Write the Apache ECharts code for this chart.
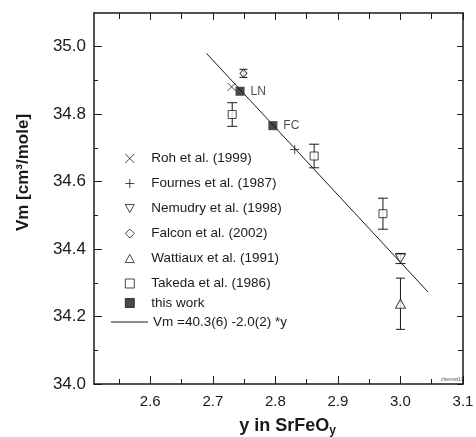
<!DOCTYPE html>
<html>
<head>
<meta charset="utf-8">
<script src="https://cdn.jsdelivr.net/npm/echarts@6/dist/echarts.min.js"></script>
<style>
  html, body { margin: 0; padding: 0; background: #fff; }
  #chart { width: 476px; height: 437px; }
</style>
</head>
<body>
<div id="chart"></div>
<script>
// Axis ranges and tick positions
const xRange = [2.51, 3.1];
const yRange = [34.0, 35.1];
const xMajorTicks = [2.6, 2.7, 2.8, 2.9, 3.0, 3.1];
const xMinorTicks = [2.55, 2.65, 2.75, 2.85, 2.95, 3.05];
const yMajorTicks = [34.0, 34.2, 34.4, 34.6, 34.8, 35.0];
const yMinorTicks = [34.1, 34.3, 34.5, 34.7, 34.9];

// Literature values: y (oxygen content), Vm, and error of Vm
const rohX = [2.730];
const rohVm = [34.881];

const fournesX = [2.831];
const fournesVm = [34.695];

const nemudryX = [3.0];
const nemudryVm = [34.372];
const nemudryErr = [0.015];

const falconX = [2.749];
const falconVm = [34.921];
const falconErr = [0.012];

const wattiauxX = [3.0];
const wattiauxVm = [34.238];
const wattiauxErr = [0.076];

const takedaX = [2.731, 2.862, 2.972];
const takedaVm = [34.799, 34.676, 34.505];
const takedaErr = [0.035, 0.035, 0.046];

// This work: LN and FC samples
const workX = [2.7435, 2.796];
const workVm = [34.868, 34.766];
const workLabels = ['LN', 'FC'];

// Linear fit end points
const fitX = [2.69, 3.044];
const fitVm = [34.98, 34.273];

const seriesNames = [
  'Roh et al. (1999)',
  'Fournes et al. (1987)',
  'Nemudry et al. (1998)',
  'Falcon et al. (2002)',
  'Wattiaux et al. (1991)',
  'Takeda et al. (1986)',
  'this work',
  'Vm =40.3(6) -2.0(2) *y'
];

const FONT = "'Liberation Sans', Arial, Helvetica, sans-serif";
const INK = '#1a1a1a';

const pairs = (xs, ys) => xs.map((x, i) => [x, ys[i]]);
const triples = (xs, ys, es) => xs.map((x, i) => [x, ys[i], es[i]]);

const crossPath = 'path://M0,0L10,10M10,0L0,10';
const plusPath = 'path://M5,0L5,10M0,5L10,5';
const downTriPath = 'path://M0,0L10,0L5,9Z';
const upTriPath = 'path://M5,0L10,9L0,9Z';

function errorBars(name, data, capHalf) {
  return {
    name: name,
    type: 'custom',
    silent: true,
    z: 2,
    renderItem: function (params, api) {
      const x = api.value(0), y = api.value(1), e = api.value(2);
      const top = api.coord([x, y + e]);
      const bot = api.coord([x, y - e]);
      const st = { stroke: INK, lineWidth: 1 };
      return {
        type: 'group',
        children: [
          { type: 'line', shape: { x1: top[0], y1: top[1], x2: bot[0], y2: bot[1] }, style: st },
          { type: 'line', shape: { x1: top[0] - capHalf, y1: top[1], x2: top[0] + capHalf, y2: top[1] }, style: st },
          { type: 'line', shape: { x1: bot[0] - capHalf, y1: bot[1], x2: bot[0] + capHalf, y2: bot[1] }, style: st }
        ]
      };
    },
    data: data
  };
}

const openStyle = { color: '#fff', borderColor: INK, borderWidth: 1 };
const strokeStyle = { color: 'transparent', borderColor: INK, borderWidth: 1 };

function axisBase(extra) {
  return Object.assign({
    type: 'value',
    splitLine: { show: false },
    axisLine: { show: false },
    axisLabel: { show: false },
    axisTick: { show: false }
  }, extra);
}

const tickLine = { color: INK, width: 1 };
const frameLine = { show: true, lineStyle: { color: INK, width: 1.5 } };
const legendText = { fontSize: 13.5, color: INK, fontFamily: FONT, lineHeight: 16, padding: [0, 0, 0, 12] };

const option = {
  animation: false,
  backgroundColor: '#fff',
  textStyle: { fontFamily: FONT },
  grid: { left: 94, right: 13, top: 13, bottom: 53, containLabel: false, outerBoundsMode: 'none' },
  xAxis: [
    axisBase({
      min: xRange[0], max: xRange[1], position: 'bottom',
      axisLine: frameLine,
      axisTick: { show: true, inside: true, length: 8, customValues: xMajorTicks, lineStyle: tickLine },
      axisLabel: { show: true, customValues: xMajorTicks, margin: 10, fontSize: 15, color: INK, fontFamily: FONT,
        formatter: v => v.toFixed(1) },
      name: '{a|y in SrFeO}{s|y}',
      nameLocation: 'middle',
      nameGap: 31,
      nameTextStyle: {
        padding: [0, 0, 0, 18],
        rich: {
          a: { fontSize: 18, fontWeight: 'bold', color: INK, fontFamily: FONT },
          s: { fontSize: 12, fontWeight: 'bold', color: INK, fontFamily: FONT, padding: [10, 0, 0, 0] }
        }
      }
    }),
    axisBase({
      min: xRange[0], max: xRange[1], position: 'bottom',
      axisTick: { show: true, inside: true, length: 5, customValues: xMinorTicks, lineStyle: tickLine }
    }),
    axisBase({
      min: xRange[0], max: xRange[1], position: 'top',
      axisLine: frameLine,
      axisTick: { show: true, inside: true, length: 7, customValues: xMajorTicks, lineStyle: tickLine }
    }),
    axisBase({
      min: xRange[0], max: xRange[1], position: 'top',
      axisTick: { show: true, inside: true, length: 6, customValues: xMinorTicks, lineStyle: tickLine }
    })
  ],
  yAxis: [
    axisBase({
      min: yRange[0], max: yRange[1], position: 'left',
      axisLine: frameLine,
      axisTick: { show: true, inside: true, length: 8, customValues: yMajorTicks, lineStyle: tickLine },
      axisLabel: { show: true, customValues: yMajorTicks, margin: 8, fontSize: 17, color: INK, fontFamily: FONT,
        formatter: v => v.toFixed(1) },
      name: 'Vm [cm³/mole]',
      nameLocation: 'middle',
      nameGap: 62,
      nameTextStyle: { fontSize: 17, fontWeight: 'bold', color: INK, fontFamily: FONT, padding: [0, 0, 0, 52] }
    }),
    axisBase({
      min: yRange[0], max: yRange[1], position: 'left',
      axisTick: { show: true, inside: true, length: 4, customValues: yMinorTicks, lineStyle: tickLine }
    }),
    axisBase({
      min: yRange[0], max: yRange[1], position: 'right',
      axisLine: frameLine,
      axisTick: { show: true, inside: true, length: 6, customValues: yMajorTicks, lineStyle: tickLine }
    }),
    axisBase({
      min: yRange[0], max: yRange[1], position: 'right',
      axisTick: { show: true, inside: true, length: 5, customValues: yMinorTicks, lineStyle: tickLine }
    })
  ],
  legend: [
    {
      orient: 'vertical', left: 124.8, top: 150.5, padding: 0,
      itemWidth: 9, itemHeight: 9, itemGap: 9,
      textStyle: legendText,
      data: [
        { name: seriesNames[0], icon: crossPath, itemStyle: strokeStyle },
        { name: seriesNames[1], icon: plusPath, itemStyle: strokeStyle },
        { name: seriesNames[2], icon: downTriPath, itemStyle: openStyle },
        { name: seriesNames[3], icon: 'diamond', itemStyle: openStyle },
        { name: seriesNames[4], icon: upTriPath, itemStyle: openStyle },
        { name: seriesNames[5], icon: 'rect', itemStyle: openStyle }
      ]
    },
    {
      orient: 'vertical', left: 124.8, top: 295, padding: 0,
      itemWidth: 9, itemHeight: 9,
      textStyle: legendText,
      data: [{ name: seriesNames[6], icon: 'rect', itemStyle: { color: INK, borderColor: INK, borderWidth: 1 } }]
    },
    {
      orient: 'vertical', left: 111, top: 314, padding: 0,
      itemWidth: 37, itemHeight: 1,
      textStyle: { fontSize: 13.5, color: INK, fontFamily: FONT, lineHeight: 16, padding: [0, 0, 0, 0] },
      data: [{ name: seriesNames[7], icon: 'rect', itemStyle: { color: INK, borderWidth: 0 } }]
    }
  ],
  series: [
    {
      name: seriesNames[7], type: 'line', xAxisIndex: 0, yAxisIndex: 0,
      data: pairs(fitX, fitVm), symbol: 'none',
      lineStyle: { color: INK, width: 1 }, itemStyle: { color: INK }, z: 1
    },
    errorBars('err-takeda', triples(takedaX, takedaVm, takedaErr), 5),
    errorBars('err-nemudry', triples(nemudryX, nemudryVm, nemudryErr), 5),
    errorBars('err-falcon', triples(falconX, falconVm, falconErr), 4),
    errorBars('err-wattiaux', triples(wattiauxX, wattiauxVm, wattiauxErr), 4.5),
    {
      name: seriesNames[0], type: 'scatter', data: pairs(rohX, rohVm),
      symbol: crossPath, symbolSize: 8, itemStyle: strokeStyle, z: 3
    },
    {
      name: seriesNames[1], type: 'scatter', data: pairs(fournesX, fournesVm),
      symbol: plusPath, symbolSize: 9, itemStyle: strokeStyle, z: 3
    },
    {
      name: seriesNames[2], type: 'scatter', data: pairs(nemudryX, nemudryVm),
      symbol: downTriPath, symbolSize: [10, 9], itemStyle: openStyle, z: 3
    },
    {
      name: seriesNames[3], type: 'scatter', data: pairs(falconX, falconVm),
      symbol: 'diamond', symbolSize: [7, 8], itemStyle: openStyle, z: 3
    },
    {
      name: seriesNames[4], type: 'scatter', data: pairs(wattiauxX, wattiauxVm),
      symbol: upTriPath, symbolSize: [10, 9], itemStyle: openStyle, z: 3
    },
    {
      name: seriesNames[5], type: 'scatter', data: pairs(takedaX, takedaVm),
      symbol: 'rect', symbolSize: 8, itemStyle: openStyle, z: 3
    },
    {
      name: seriesNames[6], type: 'scatter',
      data: workX.map((x, i) => ({ value: [x, workVm[i]], name: workLabels[i] })),
      symbol: 'rect', symbolSize: 9, itemStyle: { color: INK }, z: 4,
      label: { show: true, position: 'right', distance: 6, formatter: p => p.name,
        fontSize: 12, color: INK, fontFamily: FONT }
    }
  ],
  graphic: [
    {
      type: 'text', left: 441, top: 377, silent: true,
      style: { text: 'chemwt11', fontSize: 5, fill: '#555', fontFamily: FONT }
    }
  ]
};

const chart = echarts.init(document.getElementById('chart'), null, { renderer: 'canvas' });
chart.setOption(option);
</script>
</body>
</html>
